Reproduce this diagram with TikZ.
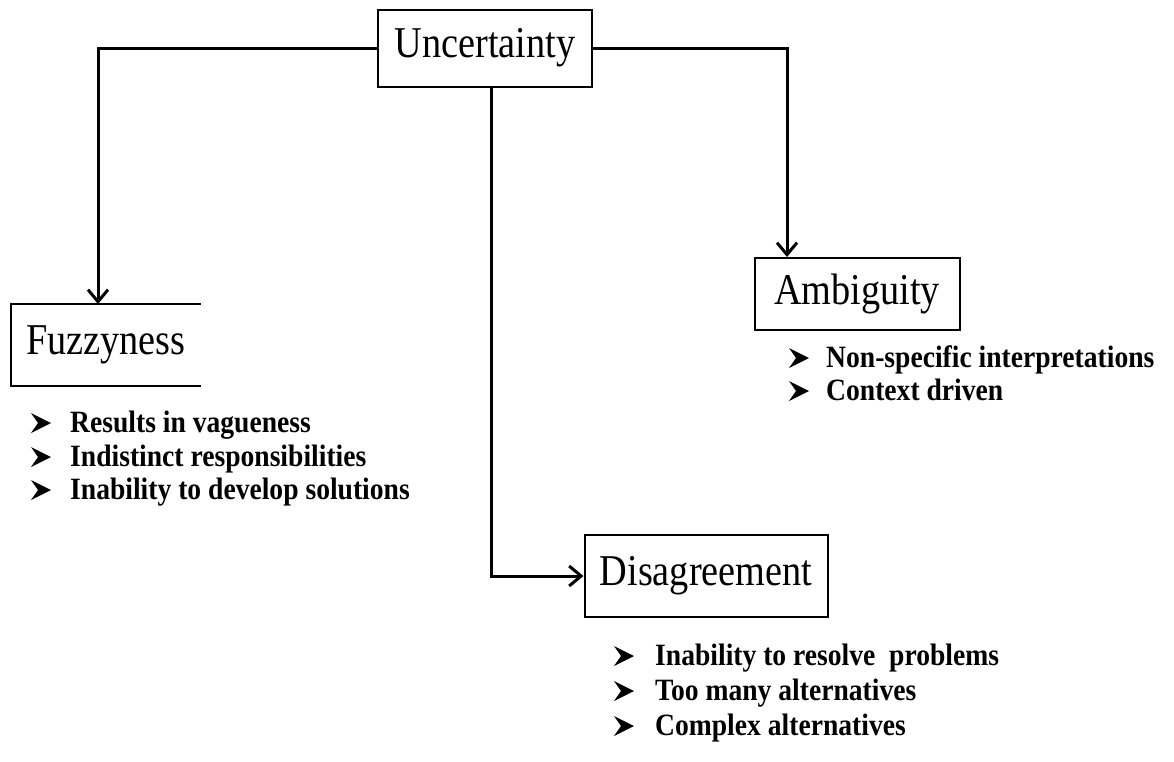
\documentclass[tikz,border=0pt]{standalone}
\usepackage{fontspec}
\setmainfont{Liberation Serif}
\newfontfamily\titlefont[FakeStretch=0.87]{Liberation Serif}
\newfontfamily\itemfont[FakeStretch=0.89]{Liberation Serif}
\usetikzlibrary{arrows.meta}
\begin{document}
\begin{tikzpicture}[x=1pt,y=-1pt,
  box/.style={draw, line width=2pt, inner sep=0pt, font=\titlefont\fontsize{44}{46}\selectfont},
  link/.style={line width=3pt, -{Straight Barb[length=12pt,width=20pt]}},
  item/.style={anchor=base west, inner sep=0pt, font=\itemfont\fontsize{31}{33}\selectfont\bfseries},
  bul/.pic={\fill (0,-10) -- (20,0) -- (0,10) -- (7,0) -- cycle;}]
\useasboundingbox (0,0) rectangle (1174,761);

% category boxes
\node[box, minimum width=214, minimum height=77] (u) at (485,48) {Uncertainty};
\node[box, draw=none, minimum width=188, minimum height=80] (f) at (106,345) {Fuzzyness};
\draw[line width=2pt] (f.north east) -- (f.north west) -- (f.south west) -- (f.south east);
\node[box, minimum width=205, minimum height=72] (a) at (857,294) {Ambiguity};
\node[box, minimum width=243, minimum height=82] (d) at (706,576) {Disagreement};

% connectors
\draw[link] (u.west) -| ([xshift=-8pt]f.north);
\draw[link] (u.east) -| ([xshift=-70pt]a.north);
\draw[link] ([xshift=6pt]u.south) |- (d.west);

% Fuzzyness items
\node[item] (f1) at (70,432) {Results in vagueness};
\node[item] (f2) at (70,466) {Indistinct responsibilities};
\node[item] (f3) at (70,499) {Inability to develop solutions};
\pic at (31,423) {bul};
\pic at (31,457) {bul};
\pic at (31,490) {bul};

% Ambiguity items
\node[item] (a1) at (826,367) {Non-specific interpretations};
\node[item] (a2) at (826,400) {Context driven};
\pic at (789,358) {bul};
\pic at (789,391) {bul};

% Disagreement items
\node[item] (d1) at (655,665) {Inability to resolve~ problems};
\node[item] (d2) at (655,700) {Too many alternatives};
\node[item] (d3) at (655,735) {Complex alternatives};
\pic at (614,656) {bul};
\pic at (614,691) {bul};
\pic at (614,726) {bul};
\end{tikzpicture}
\end{document}
